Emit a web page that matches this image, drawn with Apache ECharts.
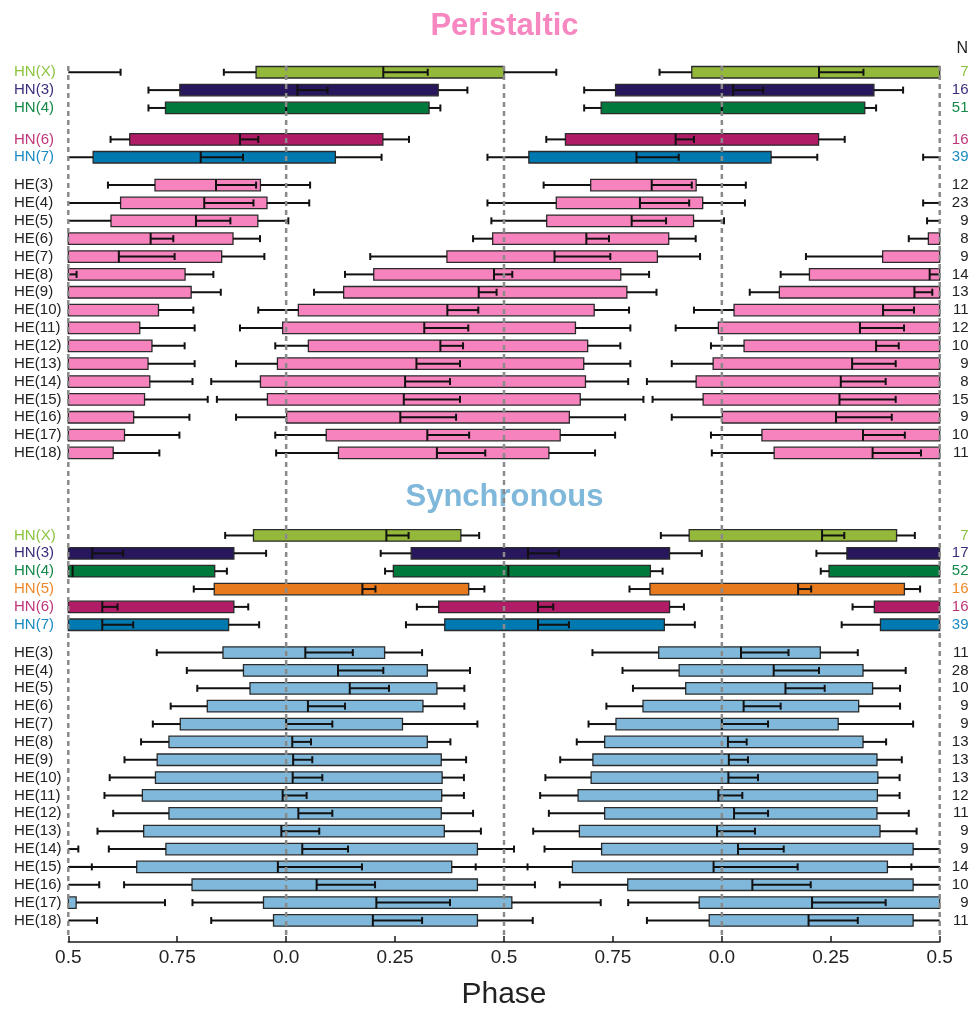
<!DOCTYPE html>
<html><head><meta charset="utf-8">
<script src="https://cdn.jsdelivr.net/npm/echarts@6/dist/echarts.min.js"></script>
<style>html,body{margin:0;padding:0;background:#fff}#c{width:971px;height:1015px}</style>
</head><body><div id="c"></div>
<script>
// ---------- DATA ----------
const tickValues = [-0.5,-0.25,0,0.25,0.5,0.75,1,1.25,1.5];
const tickLabels = ['0.5','0.75','0.0','0.25','0.5','0.75','0.0','0.25','0.5'];
const dashPhases = [-0.5,0,0.5,1,1.5];

const periLabels = ['HN(X)','HN(3)','HN(4)','HN(6)','HN(7)','HE(3)','HE(4)','HE(5)','HE(6)','HE(7)','HE(8)','HE(9)','HE(10)','HE(11)','HE(12)','HE(13)','HE(14)','HE(15)','HE(16)','HE(17)','HE(18)'];
const periOnset    = [-0.069,-0.244,-0.277,-0.359,-0.443, 0.699,0.620,0.598,0.474,0.369,0.201,0.132,0.028,-0.008,0.051,-0.020,-0.059,-0.043,0.001,0.092,0.120];
const periOnsetSD  = [0.074,0.072,0.039,0.044,0.095, 0.108,0.158,0.127,0.045,0.176,0.066,0.068,0.092,0.098,0.076,0.095,0.113,0.116,0.116,0.117,0.143];
const periMid      = [0.223,0.026,0.000,-0.106,-0.196, 0.839,0.812,0.793,0.689,0.616,0.477,0.442,0.370,0.317,0.354,0.299,0.273,0.270,0.262,0.324,0.346];
const periMidSD    = [0.102,0.069,0.002,0.042,0.097, 0.092,0.113,0.079,0.052,0.128,0.042,0.041,0.071,0.101,0.052,0.100,0.103,0.129,0.128,0.096,0.111];
const periOffset   = [0.500,0.349,0.328,0.222,0.113, 0.941,0.956,0.935,0.878,0.852,0.768,0.782,0.707,0.664,0.692,0.683,0.687,0.675,0.650,0.629,0.603];
const periOffsetSD = [0.120,0.067,0.026,0.060,0.106, 0.114,0.097,0.070,0.062,0.098,0.065,0.068,0.080,0.126,0.075,0.107,0.098,0.145,0.128,0.126,0.106];
const periN        = [7,16,51,16,39,12,23,9,8,9,14,13,11,12,10,9,8,15,9,10,11];

const syncLabels = ['HN(X)','HN(3)','HN(4)','HN(5)','HN(6)','HN(7)','HE(3)','HE(4)','HE(5)','HE(6)','HE(7)','HE(8)','HE(9)','HE(10)','HE(11)','HE(12)','HE(13)','HE(14)','HE(15)','HE(16)','HE(17)','HE(18)'];
const syncOnset    = [-0.075,0.287,0.246,-0.165,0.350,0.364, -0.145,-0.098,-0.083,-0.181,-0.243,-0.269,-0.296,-0.300,-0.330,-0.269,-0.327,-0.276,-0.343,-0.216,-0.052,-0.029];
const syncOnsetSD  = [0.065,0.070,0.019,0.047,0.050,0.089, 0.152,0.130,0.121,0.084,0.063,0.064,0.075,0.105,0.087,0.128,0.106,0.131,0.222,0.156,0.163,0.143];
const syncMid      = [0.230,0.555,0.510,0.175,0.578,0.578, 0.044,0.119,0.146,0.050,0.000,0.014,0.016,0.015,-0.008,0.028,-0.011,0.037,-0.019,0.070,0.207,0.199];
const syncMidSD    = [0.051,0.071,0.002,0.030,0.035,0.071, 0.109,0.104,0.090,0.085,0.106,0.043,0.044,0.068,0.055,0.078,0.087,0.105,0.193,0.134,0.169,0.113];
const syncOffset   = [0.401,0.880,0.836,0.419,0.880,0.868, 0.226,0.324,0.346,0.314,0.267,0.324,0.356,0.358,0.357,0.356,0.363,0.439,0.380,0.439,0.518,0.439];
const syncOffsetSD = [0.042,0.074,0.028,0.036,0.033,0.070, 0.086,0.098,0.063,0.095,0.172,0.053,0.057,0.050,0.051,0.073,0.084,0.084,0.174,0.132,0.204,0.127];
const syncN        = [7,17,52,16,16,39,11,28,10,9,9,13,13,13,12,11,9,9,14,10,9,11];

// ---------- STYLE ----------
const FONT = '"Liberation Sans", Arial, Helvetica, sans-serif';
const hnBox  = {'HN(X)':'#93b83a','HN(3)':'#28175d','HN(4)':'#00793c','HN(5)':'#e77a1c','HN(6)':'#b01c65','HN(7)':'#0078b0'};
const hnText = {'HN(X)':'#8cc43f','HN(3)':'#3a2e7c','HN(4)':'#138848','HN(5)':'#ef8a2c','HN(6)':'#bf3679','HN(7)':'#1a8bc2'};
const periColor = '#f783be', syncColor = '#7fb8da';

function isHN(l){return l.indexOf('HN')===0;}
function num(l){const m=l.match(/\((\d+)\)/);return m?+m[1]:null;}
function layout(labels,start){
  const pos=[];let p=start;
  for(let i=0;i<labels.length;i++){
    if(i>0){
      p+=1;const a=labels[i-1],b=labels[i];
      if(isHN(a)&&!isHN(b)) p+=0.56;
      else if(isHN(a)&&isHN(b)&&num(a)!==null&&num(b)!==null&&num(b)-num(a)>1) p+=0.76;
    }
    pos.push(p);
  }
  return pos;
}
const rows=[];
function addSection(labels,on,onSD,mid,midSD,off,offSD,ns,heColor,start){
  const pos=layout(labels,start);
  labels.forEach((l,i)=>rows.push({label:l,pos:pos[i],onset:on[i],onSD:onSD[i],mid:mid[i],midSD:midSD[i],offset:off[i],offSD:offSD[i],n:ns[i],
    color:isHN(l)?hnBox[l]:heColor,text:isHN(l)?hnText[l]:'#222'}));
  return pos[pos.length-1];
}
const periEnd = addSection(periLabels,periOnset,periOnsetSD,periMid,periMidSD,periOffset,periOffsetSD,periN,periColor,0);
addSection(syncLabels,syncOnset,syncOnsetSD,syncMid,syncMidSD,syncOffset,syncOffsetSD,syncN,syncColor,periEnd+4.62);

const Y_MIN=-0.35, Y_MAX=48.706, Y_DASH_END=48.37;

function renderRow(params, api){
  const r = rows[api.value(0)];
  const y = api.coord([0, r.pos])[1];
  const X = p => api.coord([p, r.pos])[0];
  const xl = X(-0.5), xr = X(1.5);
  const H = 11.5, cap = 3.5;
  const boxes=[], lines=[];
  const clampSeg=(a,b)=>{const lo=Math.max(a,-0.5),hi=Math.min(b,1.5);return hi>lo?[lo,hi]:null;};
  const inR = v => v>=-0.5-1e-9 && v<=1.5+1e-9;
  const ln=(x1,y1,x2,y2)=>({type:'line',shape:{x1,y1,x2,y2},style:{stroke:'#111',lineWidth:2}});
  for(let k=-2;k<=2;k++){
    const b=clampSeg(r.onset+k, r.offset+k);
    if(b) boxes.push({type:'rect',shape:{x:X(b[0]),y:y-H/2,width:X(b[1])-X(b[0]),height:H},style:{fill:r.color,stroke:'#2b2b2b',lineWidth:1.3}});
    const segs=[[r.onset-r.onSD+k, r.onset+k,'L'],[r.offset+k, r.offset+r.offSD+k,'R'],[r.mid+k, r.mid+r.midSD+k,'R']];
    segs.forEach(s=>{
      if(s[1]-s[0]<0.004) return;
      const c=clampSeg(s[0],s[1]);
      if(c) lines.push(ln(X(c[0]),y,X(c[1]),y));
      const cp = s[2]==='L'?s[0]:s[1];
      if(inR(cp)) lines.push(ln(X(cp),y-cap,X(cp),y+cap));
    });
    if(inR(r.mid+k)) lines.push(ln(X(r.mid+k),y-H/2,X(r.mid+k),y+H/2));
  }
  const texts=[
    {type:'text',style:{text:r.label,x:xl-54.3,y:y,align:'left',verticalAlign:'middle',font:'15px '+FONT,fill:r.text}},
    {type:'text',style:{text:String(r.n),x:xr+28.8,y:y,align:'right',verticalAlign:'middle',font:'15px '+FONT,fill:r.text}}
  ];
  return {type:'group',children:boxes.concat(lines,texts)};
}
function renderDash(params, api){
  const p=api.value(0);
  const a=api.coord([p,Y_MIN]), b=api.coord([p,Y_DASH_END]);
  return {type:'line',shape:{x1:a[0],y1:a[1],x2:b[0],y2:b[1]},style:{stroke:'#8a8a8a',lineWidth:2.5,lineDash:[5,4]}};
}

const chart = echarts.init(document.getElementById('c'),null,{renderer:'canvas'});
chart.setOption({
  animation:false,
  backgroundColor:'#fff',
  grid:{left:68.3,right:31.3,top:66,bottom:66},
  xAxis:{type:'value',min:-0.5,max:1.5,interval:0.25,
    axisLine:{show:true,onZero:false,lineStyle:{color:'#1a1a1a',width:1.5}},
    axisTick:{show:true,inside:true,length:6,lineStyle:{color:'#1a1a1a',width:1.5}},
    axisLabel:{fontSize:19,color:'#222',margin:6,fontFamily:FONT,
      formatter:v=>{const i=tickValues.findIndex(t=>Math.abs(t-v)<1e-6);return i>=0?tickLabels[i]:'';}},
    splitLine:{show:false},
    name:'Phase',nameLocation:'middle',nameGap:38,nameTextStyle:{fontSize:30,color:'#222',fontFamily:FONT}},
  yAxis:{type:'value',inverse:true,min:Y_MIN,max:Y_MAX,show:false,splitLine:{show:false}},
  graphic:[
    {type:'text',style:{text:'Peristaltic',x:504.5,y:26.5,align:'center',verticalAlign:'middle',font:'bold 31px '+FONT,fill:'#f787c0'}},
    {type:'text',style:{text:'Synchronous',x:504.5,y:497,align:'center',verticalAlign:'middle',font:'bold 31px '+FONT,fill:'#7fb8da'}},
    {type:'text',style:{text:'N',x:968,y:49,align:'right',verticalAlign:'middle',font:'16px '+FONT,fill:'#222'}}
  ],
  series:[
    {type:'custom',renderItem:renderRow,data:rows.map((r,i)=>[i]),encode:{x:0},z:2,silent:true},
    {type:'custom',renderItem:renderDash,data:dashPhases.map(p=>[p]),encode:{x:0},z:3,silent:true}
  ]
});
</script></body></html>
